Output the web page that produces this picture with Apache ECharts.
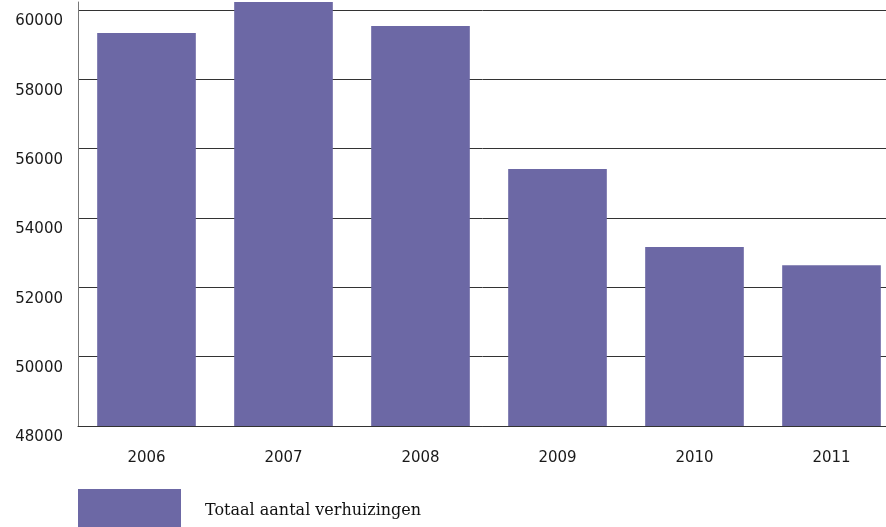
<!DOCTYPE html>
<html>
<head>
<meta charset="utf-8">
<script src="https://cdn.jsdelivr.net/npm/echarts@6/dist/echarts.min.js"></script>
<style>
  html, body { margin: 0; padding: 0; background: #fff; }
  #chart { width: 886px; height: 527px; }
</style>
</head>
<body>
<div id="chart"></div>
<script>
// Moves per year
const years = ['2006', '2007', '2008', '2009', '2010', '2011'];
const moves = [59340, 60230, 59540, 55410, 53160, 52640];
const seriesName = 'Totaal aantal verhuizingen';

const chart = echarts.init(document.getElementById('chart'), null, { renderer: 'canvas' });

chart.setOption({
  animation: false,
  backgroundColor: '#ffffff',
  grid: {
    left: 78, top: 2, right: -14, bottom: 101,
    containLabel: false,
    outerBoundsMode: 'none'
  },
  legend: {
    left: 78,
    top: 489,
    padding: 0,
    itemWidth: 103,
    itemHeight: 44,
    icon: 'rect',
    data: [seriesName],
    textStyle: {
      fontFamily: 'DejaVu Serif',
      fontSize: 16,
      color: '#111',
      padding: [0, 0, 0, 19]
    }
  },
  xAxis: {
    type: 'category',
    data: years,
    axisTick: { show: false },
    axisLine: { lineStyle: { color: '#333', width: 1 } },
    axisLabel: {
      margin: 25,
      fontFamily: 'DejaVu Sans',
      fontSize: 15,
      color: '#1a1a1a'
    }
  },
  yAxis: {
    type: 'value',
    min: 48000,
    max: 60231,
    interval: 2000,
    axisLine: { show: true, lineStyle: { color: '#777', width: 1 } },
    axisTick: { show: false },
    splitLine: { showMaxLine: false, lineStyle: { color: '#333', width: 1 } },
    axisLabel: {
      margin: 15,
      showMaxLabel: false,
      fontFamily: 'DejaVu Sans',
      fontSize: 15,
      color: '#1a1a1a',
      verticalAlign: 'top',
      padding: [4, 0, 0, 0],
      formatter: (v) => (v % 2000 === 0 ? String(v) : '')
    }
  },
  series: [{
    name: seriesName,
    type: 'bar',
    data: moves,
    barCategoryGap: '28%',
    itemStyle: { color: '#6c68a5' }
  }]
});
</script>
</body>
</html>
